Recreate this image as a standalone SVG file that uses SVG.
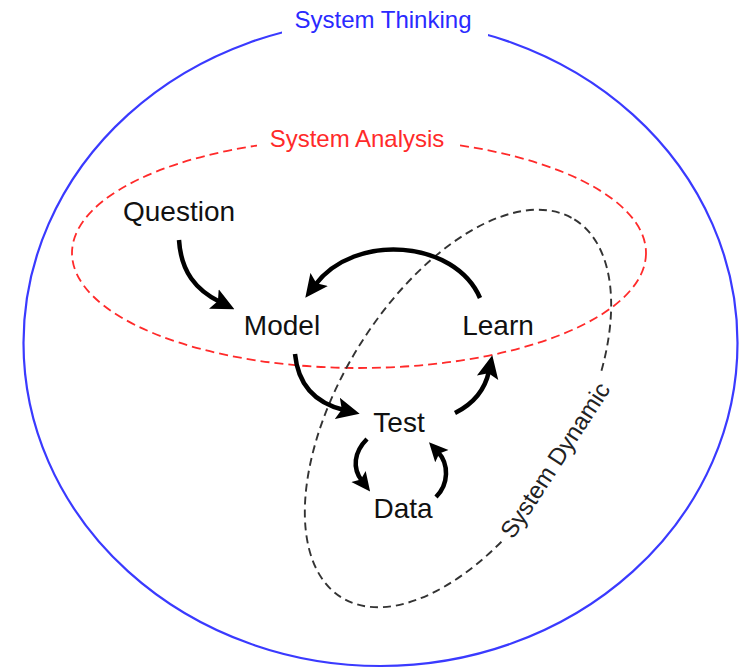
<svg xmlns="http://www.w3.org/2000/svg" width="739" height="669" viewBox="0 0 739 669">
<defs>
<style>
.lbl{font-family:"Liberation Sans",Arial,sans-serif;font-size:24px;text-anchor:middle}
.node text{font-family:"Liberation Sans",Arial,sans-serif;font-size:28px;fill:#111;text-anchor:middle}
.arrow{fill:none;stroke:#000;stroke-width:4.5;marker-end:url(#ah)}
.arrow.s{marker-end:url(#ahs)}
</style>
<marker id="ah" viewBox="0 0 20 20" refX="6" refY="10" markerWidth="23" markerHeight="23" orient="auto" markerUnits="userSpaceOnUse">
<path d="M0,0.5 L20,10 L0,19.5 L4,10 Z" fill="#000"/>
</marker>
<marker id="ahs" viewBox="0 0 20 20" refX="6" refY="10" markerWidth="19" markerHeight="19" orient="auto" markerUnits="userSpaceOnUse">
<path d="M0,0.5 L20,10 L0,19.5 L4,10 Z" fill="#000"/>
</marker>
</defs>
<rect width="739" height="669" fill="#fff"/>
<g id="system-thinking">
<ellipse cx="380.5" cy="343" rx="357" ry="323" fill="none" stroke="#3a3aff" stroke-width="2.2"/>
<rect x="282" y="6" width="206" height="30" fill="#fff"/>
<text class="lbl" x="383" y="28" fill="#2a2aff">System Thinking</text>
</g>
<g id="system-analysis">
<ellipse cx="359" cy="253" rx="287" ry="115" fill="none" stroke="#ff2a2a" stroke-width="1.8" stroke-dasharray="9 5"/>
<rect x="257" y="126" width="200" height="28" fill="#fff"/>
<text class="lbl" x="357" y="147" fill="#ff2a2a">System Analysis</text>
</g>
<g id="system-dynamic">
<ellipse cx="0" cy="0" rx="222" ry="117" transform="translate(458 408.5) rotate(-58.4)" fill="none" stroke="#333" stroke-width="1.9" stroke-dasharray="8 5"/>
<g transform="translate(555 460) rotate(-57)">
<rect x="-96" y="-13" width="192" height="26" fill="#fff"/>
<text class="lbl" x="0" y="8.5" fill="#222">System Dynamic</text>
</g>
</g>
<g id="connectors">
<path class="arrow" d="M179,240 C181,272 196,290 220,302"/>
<path class="arrow" d="M480,298 C455,240 355,232 315,285"/>
<path class="arrow" d="M295,354 C298,385 315,403 344,410"/>
<path class="arrow" d="M455,413 C473,404 485,390 489,371"/>
<path class="arrow s" d="M367,439 C354,452 352,468 362,481"/>
<path class="arrow s" d="M436,497 C449,484 449,464 438,452"/>
</g>
<g id="node-question" class="node"><text x="179" y="221">Question</text></g>
<g id="node-model" class="node"><text x="282" y="335">Model</text></g>
<g id="node-learn" class="node"><text x="498" y="335">Learn</text></g>
<g id="node-test" class="node"><text x="399" y="432">Test</text></g>
<g id="node-data" class="node"><text x="403" y="518">Data</text></g>
</svg>
